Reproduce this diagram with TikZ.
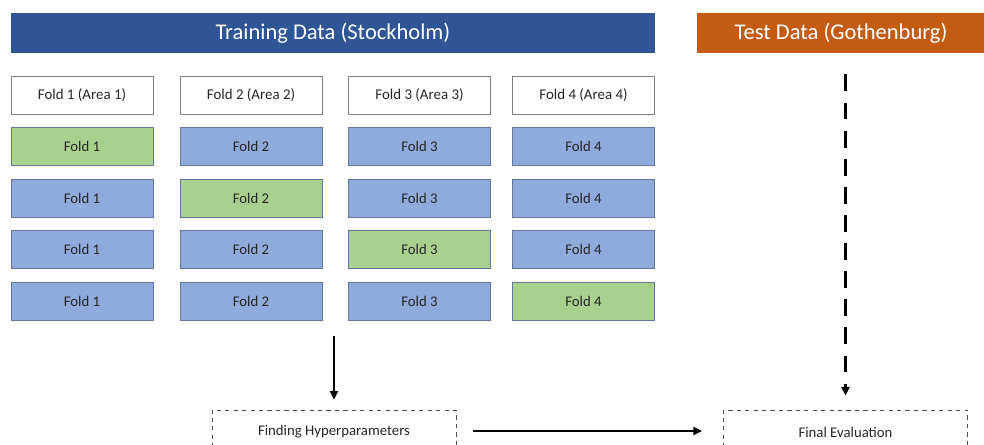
\documentclass[tikz,border=0pt]{standalone}
\usepackage{fontspec}
\setmainfont{Carlito}
\usepackage{tikz}
\usetikzlibrary{arrows.meta,positioning}
\definecolor{trainblue}{HTML}{2F5597}
\definecolor{testorange}{HTML}{C55A11}
\definecolor{foldblue}{HTML}{8FAADC}
\definecolor{foldgreen}{HTML}{A9D18E}
\definecolor{edgegray}{HTML}{7F7F7F}
\definecolor{labelgray}{HTML}{262626}

\begin{document}
\begin{tikzpicture}[x=0.025cm, y=-0.025cm,
  banner/.style={minimum height=1cm, text=white, font=\fontsize{16}{19}\selectfont, inner sep=0pt},
  areabox/.style={draw=edgegray, fill=white, text=labelgray, minimum width=3.55cm, minimum height=0.95cm, font=\fontsize{10.6}{12}\selectfont, inner sep=0pt},
  valfold/.style={draw=foldblue!70!black, fill=foldgreen, text=labelgray, minimum width=3.55cm, minimum height=0.95cm, font=\fontsize{10.5}{12}\selectfont, inner sep=0pt},
  trainfold/.style={draw=foldblue!70!black, fill=foldblue, text=labelgray, minimum width=3.55cm, minimum height=0.95cm, font=\fontsize{10.5}{12}\selectfont, inner sep=0pt},
  stage/.style={draw=black!70, dashed, text=labelgray, minimum width=6.1cm, minimum height=1.1cm, font=\fontsize{10.5}{12}\selectfont, inner sep=0pt},
  arrow/.style={-{Triangle[length=2.2mm, width=2mm]}, line width=1.4pt}
]
  \clip (0,0) rectangle (984,445);

  \node[banner, fill=trainblue, minimum width=16.1cm] (train) at (333,33) {Training Data (Stockholm)};
  \node[banner, fill=testorange, minimum width=7.2cm] (test) at (841,33) {Test Data (Gothenburg)};

  % area headers
  \node[areabox] (area1) at (82,95) {Fold 1 (Area 1)};
  \node[areabox] (area2) at (251,95) {Fold 2 (Area 2)};
  \node[areabox] (area3) at (419.5,95) {Fold 3 (Area 3)};
  \node[areabox] (area4) at (583.5,95) {Fold 4 (Area 4)};

  % split 1
  \node[valfold] (s1f1) at (82,146) {Fold 1};
  \node[trainfold] (s1f2) at (251,146) {Fold 2};
  \node[trainfold] (s1f3) at (419.5,146) {Fold 3};
  \node[trainfold] (s1f4) at (583.5,146) {Fold 4};

  % split 2
  \node[trainfold] (s2f1) at (82,198) {Fold 1};
  \node[valfold] (s2f2) at (251,198) {Fold 2};
  \node[trainfold] (s2f3) at (419.5,198) {Fold 3};
  \node[trainfold] (s2f4) at (583.5,198) {Fold 4};

  % split 3
  \node[trainfold] (s3f1) at (82,249) {Fold 1};
  \node[trainfold] (s3f2) at (251,249) {Fold 2};
  \node[valfold] (s3f3) at (419.5,249) {Fold 3};
  \node[trainfold] (s3f4) at (583.5,249) {Fold 4};

  % split 4
  \node[trainfold] (s4f1) at (82,301.5) {Fold 1};
  \node[trainfold] (s4f2) at (251,301.5) {Fold 2};
  \node[trainfold] (s4f3) at (419.5,301.5) {Fold 3};
  \node[valfold] (s4f4) at (583.5,301.5) {Fold 4};

  \node[stage] (hyper) at (334,432) {Finding Hyperparameters};
  \node[stage] (final) at (845.5,432) {Final Evaluation};
  \coordinate (gridout) at (334,336);

  \draw[arrow, shorten >=7] (gridout) -- (gridout |- hyper.north);
  \draw[arrow, shorten <=12, shorten >=15] (hyper.east |- 0,431) -- (final.west |- 0,431);
  \draw[arrow, dash pattern=on 12 off 8, line width=2pt, shorten <=15, shorten >=10] (test.south -| final.north) -- (final.north);
\end{tikzpicture}
\end{document}
